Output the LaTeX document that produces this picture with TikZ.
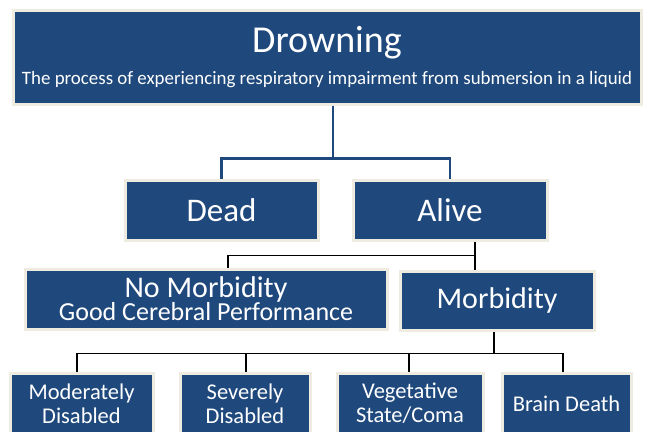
\documentclass[tikz,border=0pt]{standalone}
\usepackage{fontspec}
\setmainfont{Carlito}
\definecolor{boxblue}{HTML}{1F497D}
\definecolor{boxedge}{HTML}{EEECE1}
\begin{document}
\begin{tikzpicture}[x=1pt,y=-1pt,
  box/.style={fill=boxblue,draw=boxedge,line width=3pt,text=white,inner sep=0pt,align=center},
  topconn/.style={draw=boxblue,line width=2.6pt},
  conn/.style={draw=black,line width=1.8pt}]
\clip (0,0) rectangle (652,431);
\fill[white] (0,0) rectangle (652,431);
% top
\node[box,minimum width=628pt,minimum height=94pt] (drown) at (327,57)
  {\fontsize{38}{40}\selectfont Drowning\\[11pt]\fontsize{18.9}{20}\selectfont The process of experiencing respiratory impairment from submersion in a liquid};
% level 2
\node[box,minimum width=193pt,minimum height=60pt,font=\fontsize{33}{36}\selectfont] (dead) at (221.5,210) {Dead};
\node[box,minimum width=194pt,minimum height=60pt,font=\fontsize{33}{36}\selectfont] (alive) at (450,210) {Alive};
% level 3
\node[box,minimum width=362pt,minimum height=60pt] (nomorb) at (206,299)
  {\fontsize{30}{22}\selectfont No Morbidity\\[-1pt]\fontsize{26}{22}\selectfont Good Cerebral Performance};
\node[box,minimum width=194pt,minimum height=59pt,font=\fontsize{30}{32}\selectfont] (morb) at (497,300.5) {Morbidity};
% level 4
\tikzset{small/.style={box,minimum height=61pt,font=\fontsize{22.5}{24}\selectfont}}
\node[small,minimum width=143pt] (mod) at (81.5,403.5) {Moderately\\Disabled};
\node[small,minimum width=130pt] (sev) at (245,403.5) {Severely\\Disabled};
\node[small,minimum width=146pt] (veg) at (410,403.5) {Vegetative\\State/Coma};
\node[small,minimum width=129pt] (brain) at (566.5,403.5) {Brain Death};
% connectors
\coordinate (j1) at ([xshift=6pt]drown.south);
\draw[topconn] (j1) -- ++(0,53) -| (dead.north);
\draw[topconn] (j1) -- ++(0,53) -| (alive.north);
\coordinate (j2) at ([xshift=25pt]alive.south);
\draw[conn] (j2) -- (j2 |- morb.north);
\draw[conn] (j2) ++(0,14) -| ([xshift=22pt]nomorb.north);
\coordinate (j3) at ([xshift=-3pt]morb.south);
\draw[conn] (j3) -- ++(0,22) -| ([xshift=-4.5pt]mod.north);
\draw[conn] (j3) ++(0,22) -| ([xshift=1pt]sev.north);
\draw[conn] (j3) ++(0,22) -| ([xshift=-1pt]veg.north);
\draw[conn] (j3) ++(0,22) -| ([xshift=-3.5pt]brain.north);
\end{tikzpicture}
\end{document}
